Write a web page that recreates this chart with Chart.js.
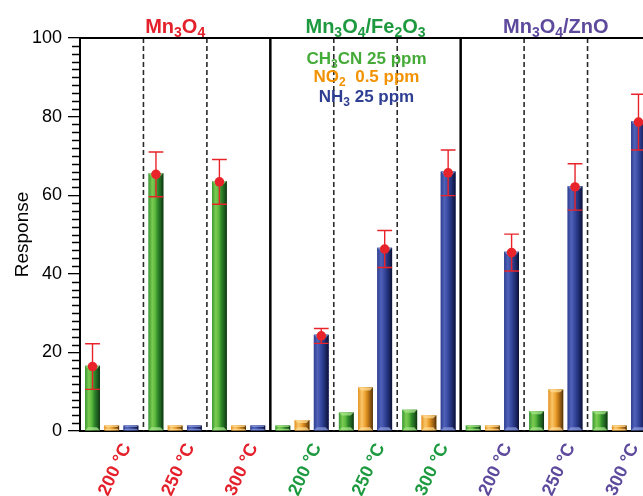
<!DOCTYPE html>
<html><head><meta charset="utf-8">
<script src="https://cdn.jsdelivr.net/npm/chart.js@4/dist/chart.umd.min.js"></script>
<style>html,body{margin:0;padding:0;overflow:hidden;background:#fff;width:643px;height:496px}canvas{display:block}</style>
</head><body><canvas id="c" width="651" height="496"></canvas>
<script>
// ---- data ----
const temperatures = ['200 °C','250 °C','300 °C','200 °C','250 °C','300 °C','200 °C','250 °C','300 °C'];
const materials = ['Mn_3O_4','Mn_3O_4/Fe_2O_3','Mn_3O_4/ZnO'];
const gasLabels = ['CH_3CN 25 ppm','NO_2  0.5 ppm','NH_3 25 ppm'];
const ch3cn = [16.6, 65.6, 63.6, 1.4, 4.7, 5.4, 1.4, 5.0, 5.0];
const no2   = [1.4, 1.4, 1.4, 2.8, 11.1, 4.0, 1.4, 10.6, 1.4];
const nh3   = [1.4, 1.4, 1.4, 24.5, 46.6, 66.0, 45.6, 62.3, 78.8];
const responseSeries = [0, 0, 0, 2, 2, 2, 2, 2, 2]; // which gas the red mean/error refers to
const responseMean = [16.4, 65.3, 63.4, 24.2, 46.3, 65.7, 45.4, 62.1, 78.6];
const responseErr  = [5.8, 5.7, 5.7, 1.9, 4.7, 5.8, 4.7, 5.9, 7.1];

const FONT = "'Liberation Sans', Arial, sans-serif";
const groupColors = ['#e4202b', '#1d9a3f', '#5e4a9c'];
const gasColors = ['#45ab38', '#f39200', '#2e3e92'];
const barShades = [
  {s:['#3b9a33','#7ccb52','#5cb83e','#2f8a2b','#1c5a1e','#0f3012'], bevel:'rgba(170,230,140,0.75)'},
  {s:['#e39424','#f9c56a','#f0a838','#d0841a','#8a5512','#4e2f08'], bevel:'rgba(255,220,150,0.75)'},
  {s:['#2f3f92','#5062b8','#3a4ca3','#2a3a8a','#18225a','#0c1030'], bevel:'rgba(140,155,220,0.75)'}
];

Chart.defaults.font.family = FONT;

function drawSubText(ctx, str, cx, baseline, size, subSize, subDrop, color) {
  const parts = str.split(/(_\d+)/).filter(p => p.length);
  const segs = parts.map(p => p[0] === '_' ? {t:p.slice(1), sub:true} : {t:p, sub:false});
  let total = 0;
  segs.forEach(s => { ctx.font = 'bold ' + (s.sub ? subSize : size) + 'px ' + FONT; s.w = ctx.measureText(s.t).width; total += s.w; });
  let x = cx - total / 2;
  ctx.fillStyle = color; ctx.textAlign = 'left'; ctx.textBaseline = 'alphabetic';
  segs.forEach(s => {
    ctx.font = 'bold ' + (s.sub ? subSize : size) + 'px ' + FONT;
    ctx.fillText(s.t, x, baseline + (s.sub ? subDrop : 0));
    x += s.w;
  });
}

const decorPlugin = {
  id: 'decor',
  afterDatasetsDraw(chart) {
    const ctx = chart.ctx, area = chart.chartArea;
    const xs = chart.scales.x, ys = chart.scales.y;
    ctx.save();
    ctx.beginPath(); ctx.rect(area.left, 0, area.right - area.left, area.bottom + 1); ctx.clip();
    // shaded 3D bars over the library's bar elements
    chart.data.datasets.forEach((ds, di) => {
      const meta = chart.getDatasetMeta(di);
      const sh = barShades[di];
      meta.data.forEach(el => {
        const p = el.getProps(['x','y','base','width'], true);
        const l = p.x - p.width/2, r = p.x + p.width/2;
        const t = Math.min(p.y, p.base), b = Math.max(p.y, p.base), h = b - t;
        const g = ctx.createLinearGradient(l, 0, r, 0);
        g.addColorStop(0, sh.s[0]); g.addColorStop(0.25, sh.s[1]); g.addColorStop(0.45, sh.s[2]);
        g.addColorStop(0.62, sh.s[3]); g.addColorStop(0.85, sh.s[4]); g.addColorStop(1, sh.s[5]);
        ctx.fillStyle = g; ctx.fillRect(l, t, p.width, h);
        const bv = Math.min(3, h / 3);
        ctx.fillStyle = sh.bevel;
        ctx.beginPath(); ctx.moveTo(l, t); ctx.lineTo(r, t); ctx.lineTo(r - bv, t + bv); ctx.lineTo(l + bv, t + bv); ctx.closePath(); ctx.fill();
        ctx.beginPath(); ctx.moveTo(l, b); ctx.lineTo(r, b); ctx.lineTo(r - bv, b - bv); ctx.lineTo(l + bv, b - bv); ctx.closePath(); ctx.fill();
      });
    });
    // separators
    for (let i = 1; i < temperatures.length; i++) {
      const xp = (xs.getPixelForTick(i - 1) + xs.getPixelForTick(i)) / 2;
      ctx.beginPath();
      if (i % 3 === 0) { ctx.setLineDash([]); ctx.lineWidth = 2.5; ctx.strokeStyle = '#000'; }
      else { ctx.setLineDash([5, 3]); ctx.lineWidth = 1.6; ctx.strokeStyle = '#2a2a2a'; }
      ctx.moveTo(xp, area.top); ctx.lineTo(xp, area.bottom); ctx.stroke();
    }
    ctx.setLineDash([]);
    // error bars + mean dots
    responseMean.forEach((m, i) => {
      const el = chart.getDatasetMeta(responseSeries[i]).data[i];
      const x = el.x, w = el.width;
      const yT = ys.getPixelForValue(m + responseErr[i]);
      const yB = ys.getPixelForValue(m - responseErr[i]);
      const yM = ys.getPixelForValue(m);
      ctx.strokeStyle = '#e8242a'; ctx.lineWidth = 1.4;
      ctx.beginPath();
      ctx.moveTo(x, yT); ctx.lineTo(x, yB);
      ctx.moveTo(x - w/2, yT); ctx.lineTo(x + w/2, yT);
      ctx.moveTo(x - w/2, yB); ctx.lineTo(x + w/2, yB);
      ctx.stroke();
      ctx.fillStyle = '#e8242a';
      ctx.beginPath(); ctx.arc(x, yM, 4.8, 0, Math.PI * 2); ctx.fill();
    });
    ctx.restore();
  },
  afterDraw(chart) {
    const ctx = chart.ctx, area = chart.chartArea;
    const xs = chart.scales.x, ys = chart.scales.y;
    ctx.save();
    // top frame line
    ctx.strokeStyle = '#000'; ctx.lineWidth = 2;
    ctx.beginPath(); ctx.moveTo(area.left, area.top); ctx.lineTo(area.right, area.top); ctx.stroke();
    // minor ticks every 2
    ctx.lineWidth = 1.3;
    ctx.beginPath();
    for (let v = 2; v < 100; v += 2) {
      if (v % 20 === 0) continue;
      const y = Math.round(ys.getPixelForValue(v)) + 0.5;
      ctx.moveTo(area.left - 8, y); ctx.lineTo(area.left, y);
    }
    ctx.stroke();
    // group titles
    materials.forEach((m, g) => {
      const cx = xs.getPixelForTick(g * 3 + 1);
      drawSubText(ctx, m, cx, 32.5, 20, 14, 4.5, groupColors[g]);
    });
    // gas legend in middle panel
    const lcx = xs.getPixelForTick(4) + 1;
    const baselines = [63.5, 82, 101.5];
    gasLabels.forEach((t, i) => drawSubText(ctx, t, lcx, baselines[i], 17, 12, 4, gasColors[i]));
    ctx.restore();
  }
};

new Chart(document.getElementById('c'), {
  type: 'bar',
  data: {
    labels: temperatures,
    datasets: [
      {label: 'CH3CN', data: ch3cn, backgroundColor: '#3a9b35'},
      {label: 'NO2', data: no2, backgroundColor: '#e8961e'},
      {label: 'NH3', data: nh3, backgroundColor: '#2e3d91'}
    ]
  },
  options: {
    responsive: false, animation: false,
    layout: {padding: {top: 38, right: 0, left: 0, bottom: 0}},
    plugins: {legend: {display: false}, tooltip: {enabled: false}},
    datasets: {bar: {categoryPercentage: 0.908, barPercentage: 0.77}},
    scales: {
      x: {
        grid: {display: false},
        border: {display: true, color: '#000', width: 2},
        ticks: {
          autoSkip: false, maxRotation: 65, minRotation: 65,
          font: {size: 18, weight: 'bold'},
          color: c => groupColors[Math.floor(c.index / 3)],
          labelOffset: 15, padding: 1
        },
        afterFit(s) { s.height = 65; }
      },
      y: {
        min: 0, max: 100,
        ticks: {stepSize: 20, font: {size: 18}, color: '#000', padding: 6},
        grid: {drawOnChartArea: false, tickLength: 12, color: '#000', lineWidth: 1.3},
        border: {color: '#000', width: 2},
        title: {display: true, text: 'Response', font: {size: 19}, color: '#000', padding: {top: 11, bottom: 0}},
        afterFit(s) { s.width = 80; }
      }
    }
  },
  plugins: [decorPlugin]
});
</script>
</body></html>
